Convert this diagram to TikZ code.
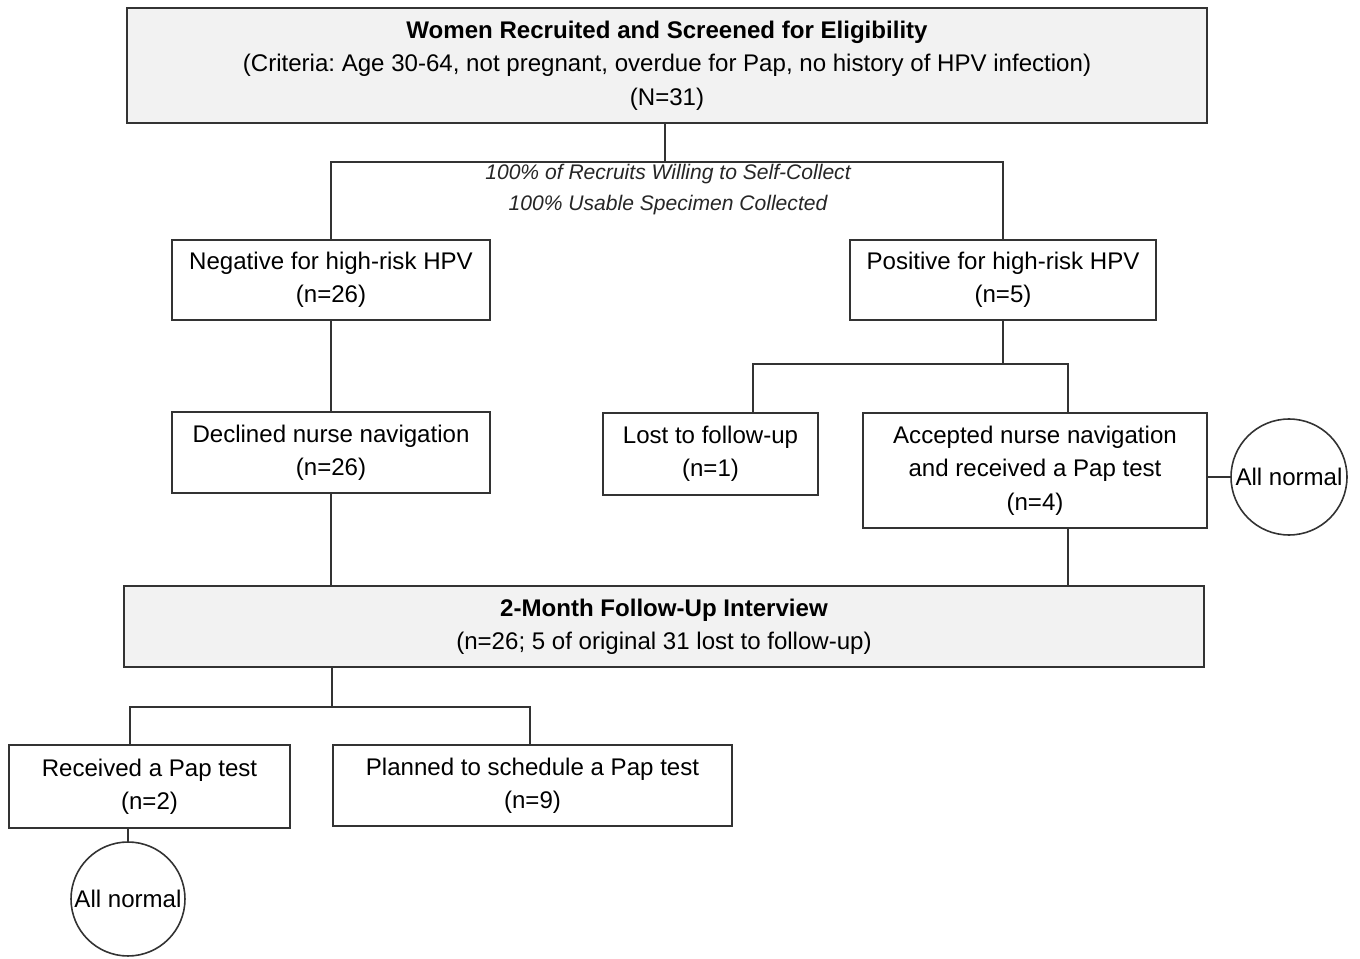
\documentclass[tikz,border=0pt]{standalone}
\usepackage{fontspec}
\setmainfont{Liberation Sans}
\frenchspacing
\definecolor{boxgray}{HTML}{F2F2F2}
\definecolor{linegray}{HTML}{333333}
\tikzset{
  every node/.style={inner sep=0pt, outer sep=0pt},
  box/.style={draw=linegray, line width=0.9pt, fill=white, align=center,
    font=\fontsize{13.7}{19}\selectfont},
  graybox/.style={box, fill=boxgray},
  circ/.style={draw=linegray, line width=0.9pt, circle, minimum size=2.32cm,
    font=\fontsize{13.7}{19}\selectfont},
  conn/.style={draw=linegray, line width=0.9pt},
  note/.style={align=center, font=\fontsize{12}{17.6}\selectfont\itshape, text=black!85}
}
\begin{document}
\begin{tikzpicture}[x=0.02cm,y=-0.02cm]
\useasboundingbox[fill=white] (0,0) rectangle (1360,959);

\node[graybox, minimum width=21.6cm, minimum height=2.3cm] (top) at (667,65.5)
  {\textbf{Women Recruited and Screened for Eligibility}\\(Criteria: Age 30-64, not pregnant, overdue for Pap, no history of HPV infection)\\(N=31)};

\node[box, minimum width=6.36cm, minimum height=1.6cm] (neg) at (331,280)
  {Negative for high-risk HPV\\(n=26)};
\node[box, minimum width=6.12cm, minimum height=1.6cm] (pos) at (1003,280)
  {Positive for high-risk HPV\\(n=5)};

\node[box, minimum width=6.36cm, minimum height=1.62cm] (decl) at (331,452.5)
  {Declined nurse navigation\\(n=26)};
\node[box, minimum width=4.3cm, minimum height=1.64cm] (lost) at (710.5,454)
  {Lost to follow-up\\(n=1)};
\node[box, minimum width=6.88cm, minimum height=2.3cm] (acc) at (1035,470.5)
  {Accepted nurse navigation\\and received a Pap test\\(n=4)};
\node[circ] (norm1) at (1289,477) {All normal};

\node[graybox, minimum width=21.6cm, minimum height=1.62cm] (follow) at (664,626.5)
  {\textbf{2-Month Follow-Up Interview}\\(n=26; 5 of original 31 lost to follow-up)};

\node[box, minimum width=5.62cm, minimum height=1.66cm] (recv) at (149.5,786.5)
  {Received a Pap test\\(n=2)};
\node[box, minimum width=7.98cm, minimum height=1.62cm] (plan) at (532.5,785.5)
  {Planned to schedule a Pap test\\(n=9)};
\node[circ, minimum size=2.28cm] (norm2) at (128,899) {All normal};

\node[note] (pct) at (668,189.5) {100\% of Recruits Willing to Self-Collect\\100\% Usable Specimen Collected};

% connectors
\coordinate (j1) at (665,162);
\coordinate (j2) at (1003,364);
\coordinate (l2) at (753,364);
\coordinate (r2) at (1068,364);
\coordinate (j3) at (332,707);
\coordinate (l3) at (130,707);
\coordinate (r3) at (530,707);

\draw[conn] (top.south -| j1) -- (j1);
\draw[conn] (neg.north -| decl.north) |- (j1) -| (pos.north);
\draw[conn] (neg.south) -- (decl.north);
\draw[conn] (pos.south) -- (j2);
\draw[conn] (lost.north -| l2) |- (r2) -- (acc.north -| r2);
\draw[conn] (acc.east |- norm1) -- (norm1.west);
\draw[conn] (decl.south) -- (follow.north -| decl.south);
\draw[conn] (acc.south -| r2) -- (follow.north -| r2);
\draw[conn] (follow.south -| j3) -- (j3);
\draw[conn] (recv.north -| l3) |- (r3) -- (plan.north -| r3);
\draw[conn] (recv.south -| norm2) -- (norm2.north);
\end{tikzpicture}
\end{document}
